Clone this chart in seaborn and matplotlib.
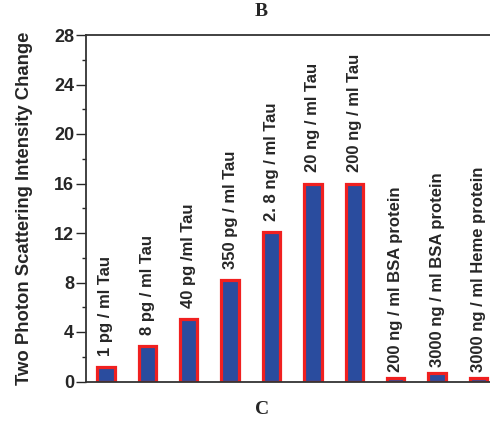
import matplotlib
matplotlib.use("Agg")
import matplotlib.pyplot as plt
import seaborn as sns
import pandas as pd
from matplotlib.ticker import MultipleLocator

categories = ["1 pg / ml Tau", "8 pg / ml Tau", "40 pg /ml Tau", "350 pg / ml Tau",
              "2. 8 ng / ml Tau", "20 ng / ml Tau", "200 ng / ml Tau",
              "200 ng / ml BSA protein", "3000 ng / ml BSA protein",
              "3000 ng / ml Heme protein"]
values = [1.2, 2.85, 5.05, 8.2, 12.05, 16.0, 16.0, 0.27, 0.65, 0.27]
yticks = [0, 4, 8, 12, 16, 20, 24, 28]

sns.set_style("ticks")
plt.rcParams['font.family'] = ['Liberation Sans', 'DejaVu Sans']

df = pd.DataFrame({"cat": categories, "val": values})

fig = plt.figure(figsize=(4.9, 4.21), dpi=100)
ax = fig.add_axes([86/490, 1 - 381.5/421, (495-86)/490, (381.5-35)/421])

sns.barplot(data=df, x="cat", y="val", ax=ax, color="#2a4c9e",
            edgecolor="#f02020", linewidth=2.3, width=0.42, saturation=1)

for p, lab in zip(ax.patches, categories):
    x = p.get_x() + p.get_width() / 2
    off = 4.5 if "protein" in lab else 8
    ax.annotate(lab, (x, p.get_height()), xytext=(0, off), textcoords="offset points",
                rotation=90, ha="center", va="bottom", fontsize=12,
                fontweight="bold")

ax.set_xlim(-0.48, 9.4)
ax.set_ylim(0, 28)
ax.set_yticks(yticks)
ax.yaxis.set_minor_locator(MultipleLocator(2))
ax.set_xticks([])
ax.set_xlabel("")
ax.set_ylabel("Two Photon Scattering Intensity Change", fontsize=13.3,
              fontweight="bold")
ax.yaxis.set_label_coords(-(86 - 33) / 409, 0.5)
ax.tick_params(axis="y", which="major", length=7, width=1, labelsize=13,
               direction="out", pad=1.5)
ax.tick_params(axis="y", which="minor", length=3, width=1, direction="out")
for lbl in ax.get_yticklabels():
    lbl.set_fontweight("bold")
for s in ["left", "bottom", "top"]:
    ax.spines[s].set_visible(True)
    ax.spines[s].set_linewidth(1.3)
    ax.spines[s].set_color("#333333")
ax.spines["right"].set_visible(False)

fig.text(261/490, 1 - 12/421, "B", fontsize=14, fontweight="bold",
         family=["Liberation Serif", "DejaVu Serif"], ha="center", va="center")
fig.text(262/490, 1 - 410/421, "C", fontsize=14, fontweight="bold",
         family=["Liberation Serif", "DejaVu Serif"], ha="center", va="center")

fig.savefig("out.png", dpi=100)
